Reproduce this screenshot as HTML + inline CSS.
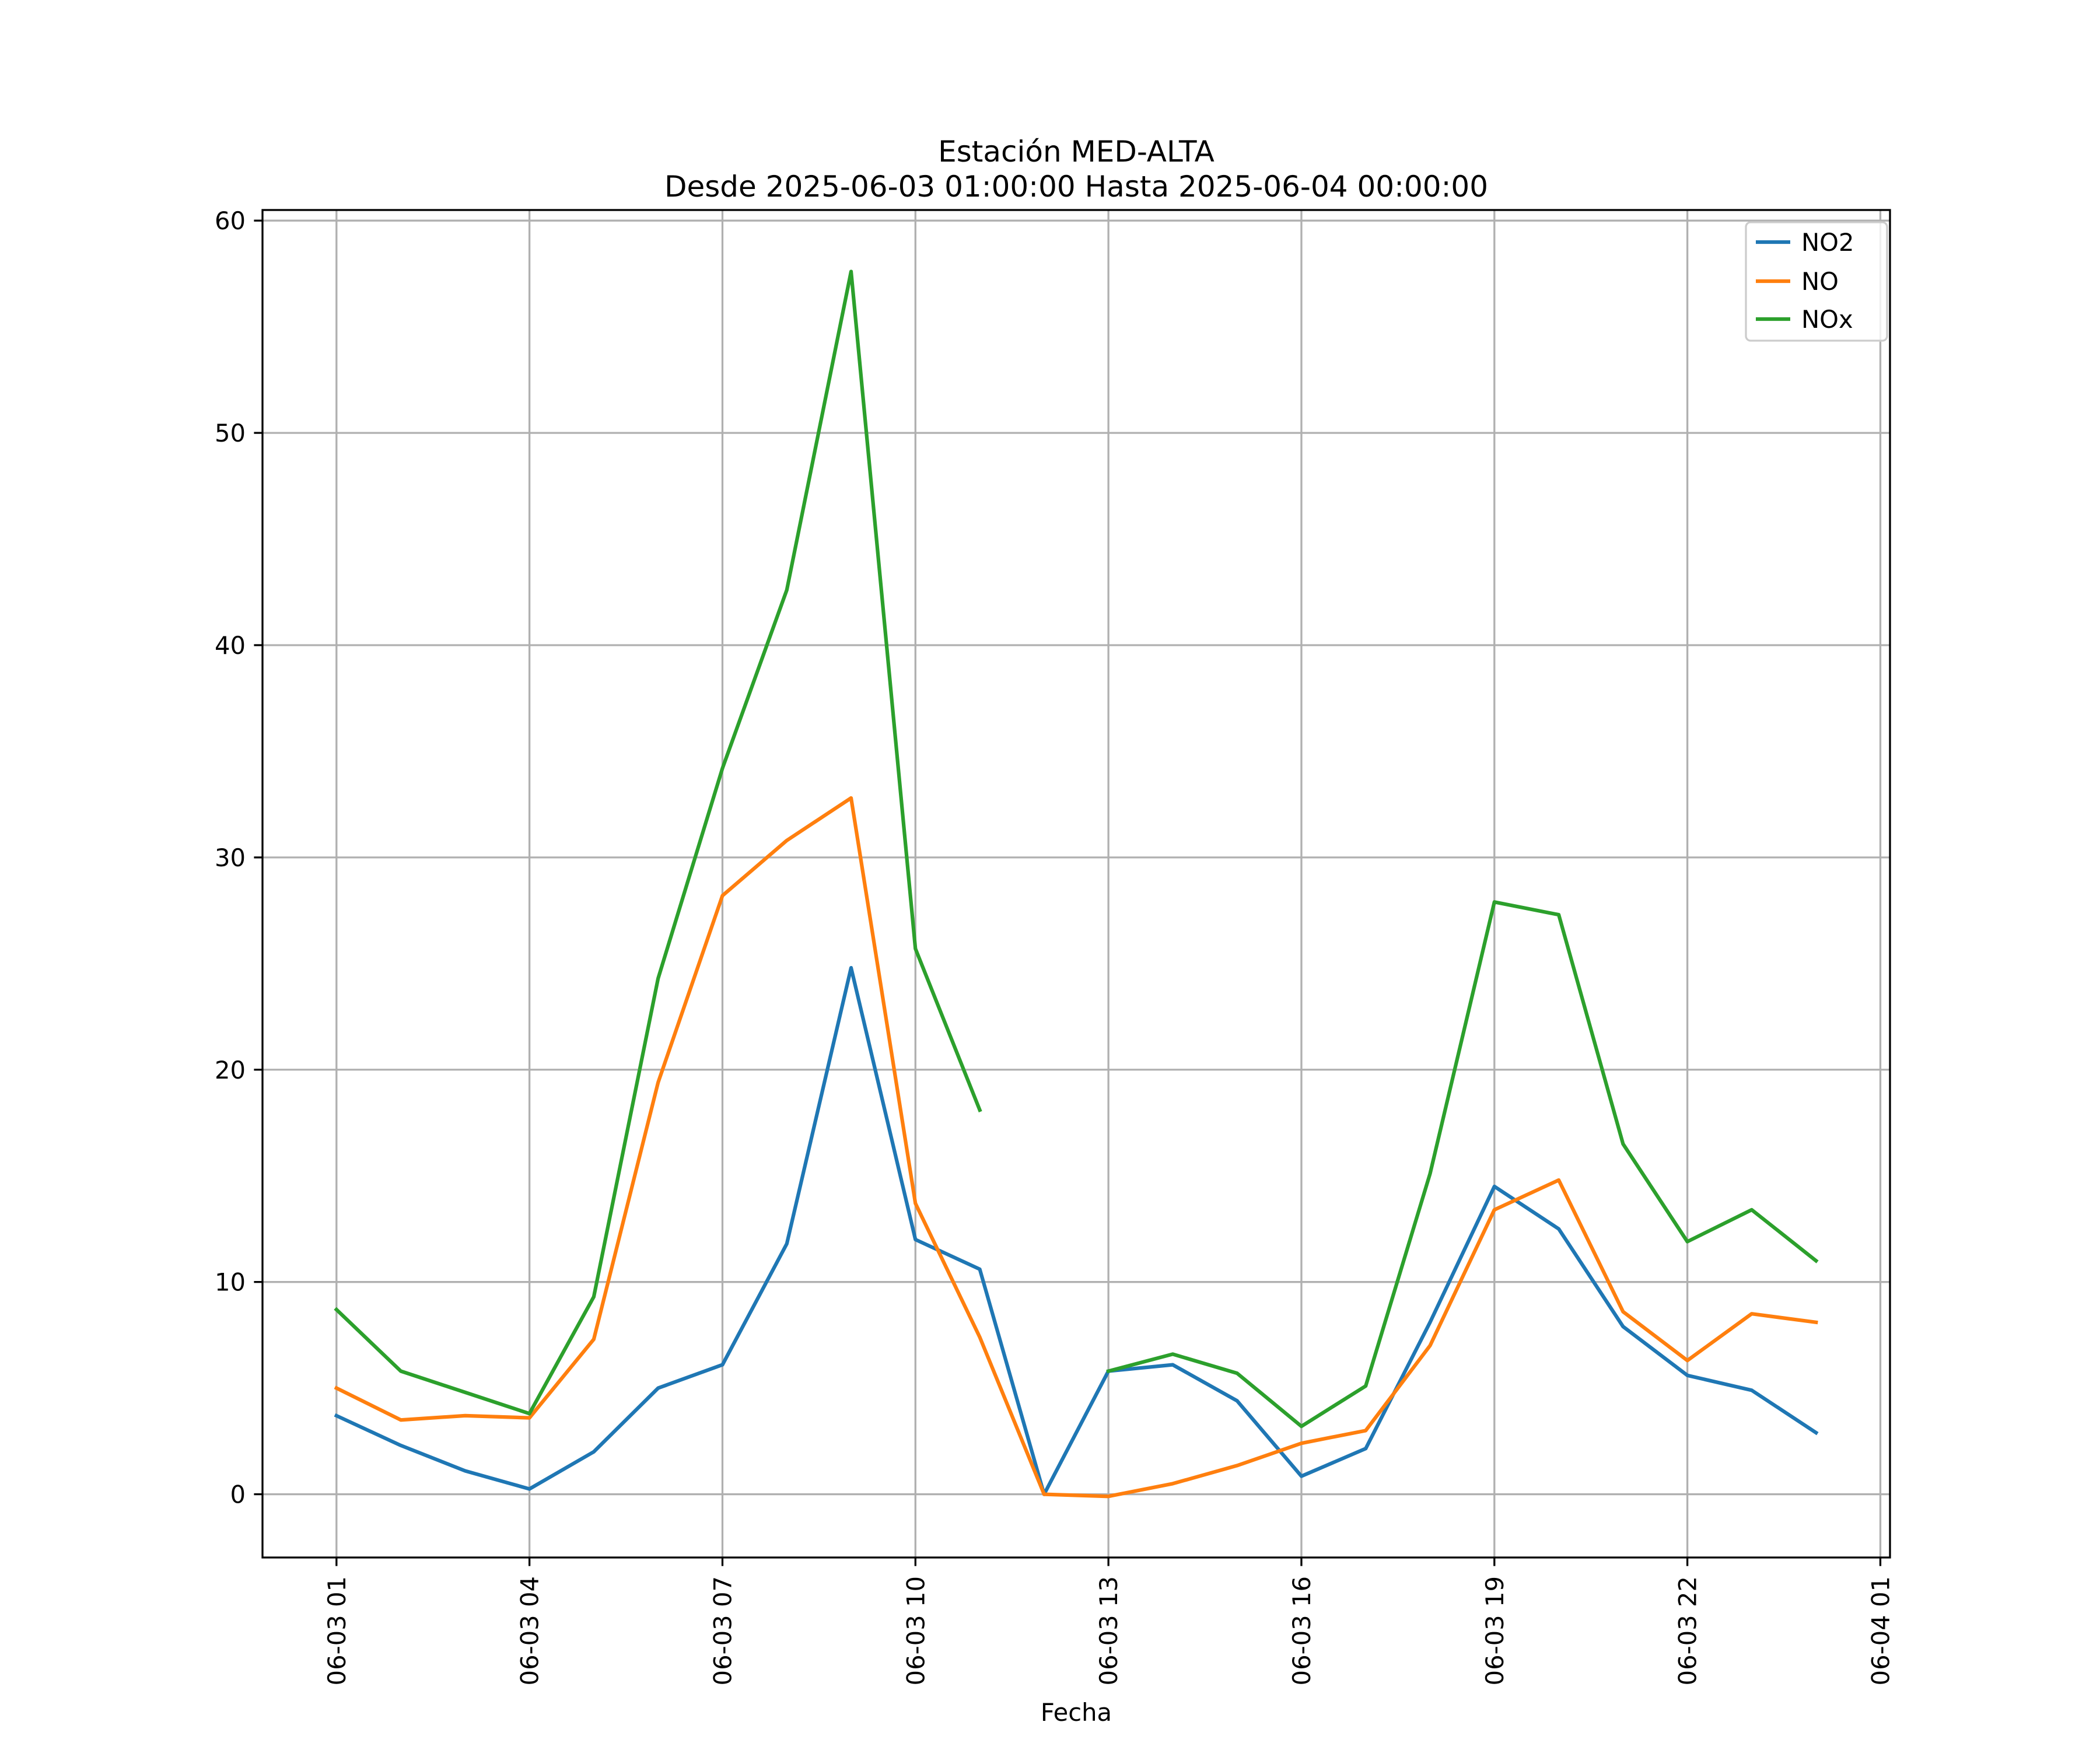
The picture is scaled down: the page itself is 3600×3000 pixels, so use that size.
<!DOCTYPE html>
<html><head><meta charset="utf-8"><style>
html,body{margin:0;padding:0;background:#fff;}
svg{display:block;font-family:"DejaVu Sans","Liberation Sans",sans-serif;}
</style></head><body>
<svg id="chart" width="3600" height="3000" viewBox="0 0 3600 3000" xmlns="http://www.w3.org/2000/svg">
<rect width="3600" height="3000" fill="#fff"/>
<text x="1845" y="277" font-size="50" text-anchor="middle">Estación MED-ALTA</text>
<text x="1845" y="337" font-size="50" text-anchor="middle">Desde 2025-06-03 01:00:00 Hasta 2025-06-04 00:00:00</text>
<g id="grid"></g>
<g id="series"></g>
<rect x="450" y="360" width="2790" height="2310" fill="none" stroke="#000" stroke-width="3.3"/>
<g id="axes"></g>
<text x="1845" y="2950" font-size="41.7" text-anchor="middle">Fecha</text>
<g>
<rect x="2993" y="381" width="242" height="203" rx="8" fill="#fff" fill-opacity="0.8" stroke="#cccccc" stroke-width="3.3"/>
<g><line x1="3010" y1="415" x2="3069" y2="415" stroke="#1f77b4" stroke-width="6.25"/><text x="3088" y="430" font-size="41.7">NO2</text></g>
<g><line x1="3010" y1="482" x2="3069" y2="482" stroke="#ff7f0e" stroke-width="6.25"/><text x="3088" y="497" font-size="41.7">NO</text></g>
<g><line x1="3010" y1="547" x2="3069" y2="547" stroke="#2ca02c" stroke-width="6.25"/><text x="3088" y="562" font-size="41.7">NOx</text></g>
</g>
</svg>
<script>
const hours = [1,2,3,4,5,6,7,8,9,10,11,12,13,14,15,16,17,18,19,20,21,22,23,24];
const no2 = [3.7,2.3,1.1,0.25,2.0,5.0,6.1,11.8,24.8,12.0,10.6,0.0,5.8,6.1,4.4,0.85,2.15,8.1,14.5,12.5,7.9,5.6,4.9,2.9];
const no = [5.0,3.5,3.7,3.6,7.3,19.4,28.2,30.8,32.8,13.7,7.4,0.0,-0.1,0.5,1.35,2.4,3.0,7.0,13.4,14.8,8.6,6.3,8.5,8.1];
const nox = [8.7,5.8,4.8,3.8,9.3,24.3,34.2,42.6,57.6,25.7,18.1,null,5.8,6.6,5.7,3.2,5.1,15.1,27.9,27.3,16.5,11.9,13.4,11.0];
const xTicks = [1,4,7,10,13,16,19,22,25];
const xTickLabels = ["06-03 01","06-03 04","06-03 07","06-03 10","06-03 13","06-03 16","06-03 19","06-03 22","06-04 01"];
const yTicks = [0,10,20,30,40,50,60];

const NS="http://www.w3.org/2000/svg";
const L=450,R=3240,T=360,B=2670;
const X0=-0.15,X1=25.15,Y0=-2.98,Y1=60.5;
const xs=h=>L+(h-X0)/(X1-X0)*(R-L);
const ys=v=>B-(v-Y0)/(Y1-Y0)*(B-T);
function mk(tag,attrs,parent){const e=document.createElementNS(NS,tag);for(const k in attrs)e.setAttribute(k,attrs[k]);parent.appendChild(e);return e;}
const grid=document.getElementById('grid'),axes=document.getElementById('axes'),ser=document.getElementById('series');
xTicks.forEach((t,i)=>{
  const x=xs(t);
  const g=mk('line',{x1:x,y1:T,x2:x,y2:B,stroke:'#b0b0b0','stroke-width':3.3},grid);
  
  
  const tk=mk('line',{x1:x,y1:B,x2:x,y2:B+14.6,stroke:'#000','stroke-width':3.3},axes);
  
  
  const tx=mk('text',{x:0,y:0,'font-size':41.7,'text-anchor':'end',transform:`translate(${x+15},${B+32}) rotate(-90)`},axes);
  tx.textContent=xTickLabels[i];
  
  
});
yTicks.forEach(t=>{
  const y=ys(t);
  const g=mk('line',{x1:L,y1:y,x2:R,y2:y,stroke:'#b0b0b0','stroke-width':3.3},grid);
  
  
  const tk=mk('line',{x1:L-14.6,y1:y,x2:L,y2:y,stroke:'#000','stroke-width':3.3},axes);
  
  
  const tx=mk('text',{x:L-29,y:y+15,'font-size':41.7,'text-anchor':'end'},axes);
  tx.textContent=String(t);
  
  
});
function draw(vals,color,name){
  let d='',pen=false;
  vals.forEach((v,i)=>{
    if(v===null){pen=false;return;}
    d+=(pen?'L':'M')+xs(hours[i]).toFixed(1)+' '+ys(v).toFixed(1)+' ';pen=true;
  });
  const p=mk('path',{d:d,fill:'none',stroke:color,'stroke-width':6.25,'stroke-linejoin':'round','stroke-linecap':'square'},ser);
  
  
}
draw(no2,'#1f77b4','line-no2');
draw(no,'#ff7f0e','line-no');
draw(nox,'#2ca02c','line-nox');
</script>
</body></html>
